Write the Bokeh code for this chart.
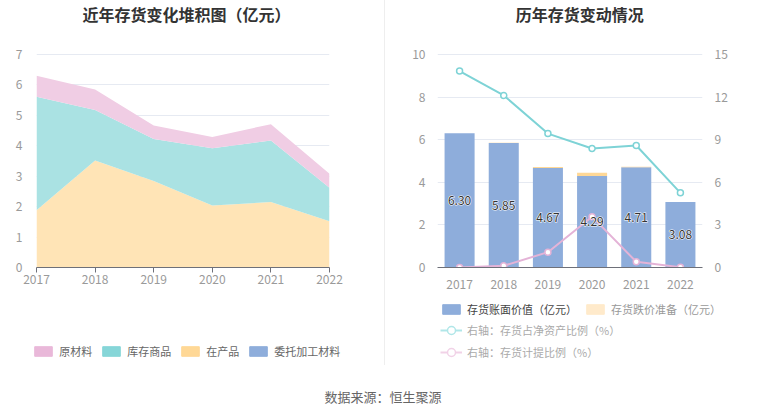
from bokeh.plotting import figure
from bokeh.models import (Range1d, FactorRange, LinearAxis, Legend, LegendItem, Label,
                          FixedTicker, ColumnDataSource, Spacer)
from bokeh.layouts import row, column
from bokeh.core.properties import value
from bokeh.embed import file_html
from bokeh.resources import INLINE

FONT = "Noto Sans CJK SC"

# ---------------- data ----------------
years = ["2017", "2018", "2019", "2020", "2021", "2022"]
year_nums = [2017, 2018, 2019, 2020, 2021, 2022]

# left: stacked inventory composition (亿元)
consigned = [0.0, 0.0, 0.0, 0.0, 0.0, 0.0]          # 委托加工材料
wip = [1.88, 3.52, 2.84, 2.04, 2.15, 1.52]           # 在产品
finished = [3.73, 1.66, 1.38, 1.88, 2.02, 1.10]      # 库存商品
raw = [0.69, 0.67, 0.45, 0.37, 0.54, 0.46]           # 原材料

# right: inventory changes
book_value = [6.30, 5.85, 4.67, 4.29, 4.71, 3.08]    # 存货账面价值（亿元）
impairment = [0.0, 0.01, 0.05, 0.16, 0.02, 0.0]      # 存货跌价准备（亿元）
ratio_net_assets = [13.83, 12.12, 9.43, 8.38, 8.59, 5.26]  # 存货占净资产比例（%）
provision_ratio = [0.0, 0.12, 1.08, 3.58, 0.40, 0.02]      # 存货计提比例（%）

left_ticks = [0, 1, 2, 3, 4, 5, 6, 7]
right_left_ticks = [0, 2, 4, 6, 8, 10]
right_right_ticks = [0, 3, 6, 9, 12, 15]

# colours
PINK, TEAL, ORANGE, BLUE = "#E9B8D9", "#86D6D8", "#FFD896", "#8EADDB"
PINK_A, TEAL_A, ORANGE_A, BLUE_A = "#F0CDE4", "#AAE2E3", "#FFE4B6", "#B0C6E6"
AXIS = "#6E7079"
GRID = "#E6EAF2"
TICKTXT = "#9A9A9A"

# frame geometry: frame spans figure top (title lives inside) down to the x axis
FRAME_H = 267
PLOT_TOP = 54
L_TOP = 7 * FRAME_H / (FRAME_H - PLOT_TOP)
R_TOP = 10 * FRAME_H / (FRAME_H - PLOT_TOP)
R2_TOP = 15 * FRAME_H / (FRAME_H - PLOT_TOP)

# ---------------- left chart ----------------
pl = figure(width=384, height=296, x_range=Range1d(2017, 2022), y_range=Range1d(0, L_TOP),
            output_backend="svg", toolbar_location=None,
            min_border_left=36, min_border_right=55, min_border_top=0, min_border_bottom=29)
pl.outline_line_color = None
src_l = ColumnDataSource(dict(x=year_nums, consigned=consigned, wip=wip,
                              finished=finished, raw=raw))
pl.varea_stack(["consigned", "wip", "finished", "raw"], x="x", source=src_l,
               color=[BLUE_A, ORANGE_A, TEAL_A, PINK_A])

pl.xaxis.ticker = FixedTicker(ticks=year_nums)
pl.xaxis.axis_line_color = AXIS
pl.xaxis.major_tick_line_color = AXIS
pl.xaxis.major_tick_out = 5
pl.xaxis.major_tick_in = 0
pl.xaxis.minor_tick_line_color = None
pl.xaxis.major_label_standoff = 2
lt = FixedTicker(ticks=left_ticks)
pl.yaxis.ticker = lt
pl.ygrid.ticker = lt
pl.yaxis.axis_line_color = None
pl.yaxis.major_tick_line_color = None
pl.yaxis.minor_tick_line_color = None
pl.yaxis.major_label_standoff = 8
for ax in (pl.xaxis, pl.yaxis):
    ax.major_label_text_color = TICKTXT
    ax.major_label_text_font = FONT
    ax.major_label_text_font_size = "12px"
pl.xgrid.grid_line_color = None
pl.ygrid.grid_line_color = GRID
pl.add_layout(Label(x=2019.56, y=(FRAME_H - 13.3) / (FRAME_H - PLOT_TOP) * 7,
                    text="近年存货变化堆积图（亿元）", text_align="center",
                    text_baseline="middle", text_font=FONT, text_font_size="16px",
                    text_font_style="bold", text_color="#333333"))

# ---------------- right chart ----------------
pr = figure(width=380, height=296, x_range=FactorRange(*years), y_range=Range1d(0, R_TOP),
            output_backend="svg", toolbar_location=None,
            min_border_left=52, min_border_right=63, min_border_top=0, min_border_bottom=29)
pr.outline_line_color = None
pr.extra_y_ranges = {"pct": Range1d(0, R2_TOP)}
pr.add_layout(LinearAxis(y_range_name="pct", ticker=FixedTicker(ticks=right_right_ticks)), "right")

src_r = ColumnDataSource(dict(year=years, book=book_value, imp=impairment,
                              ratio=ratio_net_assets, prov=provision_ratio,
                              mid=[v / 2 for v in book_value],
                              lbl=["%.2f" % v for v in book_value]))
pr.vbar_stack(["book", "imp"], x="year", width=0.68, source=src_r,
              color=[BLUE, ORANGE], line_color=None)

pr.line(x="year", y="ratio", source=src_r, y_range_name="pct", line_color="#7ED3D6", line_width=2)
pr.scatter(x="year", y="ratio", source=src_r, y_range_name="pct", marker="circle", size=6,
           fill_color="white", line_color="#7ED3D6", line_width=1.5)
pr.line(x="year", y="prov", source=src_r, y_range_name="pct", line_color="#E4B3D7", line_width=2)
pr.scatter(x="year", y="prov", source=src_r, y_range_name="pct", marker="circle", size=6,
           fill_color="white", line_color="#E4B3D7", line_width=1.5)

# halo then text
pr.text(x="year", y="mid", text="lbl", source=src_r, text_align="center",
        text_baseline="middle", text_font=value(FONT), text_font_size="12px",
        text_color="white", text_outline_color="white")
pr.text(x="year", y="mid", text="lbl", source=src_r, text_align="center",
        text_baseline="middle", text_font=value(FONT), text_font_size="12px",
        text_color="#333333")

pr.xaxis.axis_line_color = AXIS
pr.xaxis.major_tick_line_color = None
pr.xaxis.major_label_standoff = 6
for ax in pr.yaxis:
    ax.axis_line_color = None
    ax.major_tick_line_color = None
    ax.minor_tick_line_color = None
    ax.major_label_standoff = 6
rt = FixedTicker(ticks=right_left_ticks)
pr.yaxis[0].ticker = rt
pr.ygrid.ticker = rt
for ax in list(pr.xaxis) + list(pr.yaxis):
    ax.major_label_text_color = TICKTXT
    ax.major_label_text_font = FONT
    ax.major_label_text_font_size = "12px"
pr.xgrid.grid_line_color = None
pr.ygrid.grid_line_color = GRID
pr.add_layout(Label(x=3.22, y=(FRAME_H - 13.3) / (FRAME_H - PLOT_TOP) * 10,
                    text="历年存货变动情况", text_align="center",
                    text_baseline="middle", text_font=FONT, text_font_size="16px",
                    text_font_style="bold", text_color="#333333"))

# ---------------- legend strips ----------------
LEG_H = 74


def strip(width):
    f = figure(width=width, height=LEG_H, x_range=Range1d(0, width), y_range=Range1d(0, LEG_H),
               output_backend="svg", toolbar_location=None, min_border=0,
               x_axis_location=None, y_axis_location=None)
    f.grid.visible = False
    f.outline_line_color = None
    return f


common = dict(glyph_width=22, padding=0, margin=0, border_line_color=None,
              background_fill_alpha=0, label_text_font=FONT, label_text_font_size="11px",
              label_standoff=5)

gl = strip(384)
dl = {}
for name, c in [("raw", PINK), ("fin", TEAL), ("wip", ORANGE), ("con", BLUE)]:
    dl[name] = gl.vbar(x=[-50], top=[-10], bottom=[-20], width=1, color=c)
gl.add_layout(Legend(items=[LegendItem(label="原材料", renderers=[dl["raw"]]),
                            LegendItem(label="库存商品", renderers=[dl["fin"]]),
                            LegendItem(label="在产品", renderers=[dl["wip"]]),
                            LegendItem(label="委托加工材料", renderers=[dl["con"]])],
                     orientation="horizontal", location=(32.3, 11.3),
                     glyph_height=12, label_height=12, spacing=8,
                     label_text_color="#666666", **common))

gr = strip(380)
d_book = gr.vbar(x=[-50], top=[-10], bottom=[-20], width=1, color=BLUE)
d_imp = gr.vbar(x=[-50], top=[-10], bottom=[-20], width=1, color="#FFEACB")
d_l1 = gr.line(x=[-60, -50], y=[-10, -10], line_color="#B0E6E8", line_width=2)
d_s1 = gr.scatter(x=[-50], y=[-10], marker="circle", fill_color="white",
                  line_color="#B0E6E8", line_width=1.5)
d_l2 = gr.line(x=[-60, -50], y=[-10, -10], line_color="#F1D2E7", line_width=2)
d_s2 = gr.scatter(x=[-50], y=[-10], marker="circle", fill_color="white",
                  line_color="#F1D2E7", line_width=1.5)
gr.add_layout(Legend(items=[LegendItem(label="存货账面价值（亿元）", renderers=[d_book])],
                     location=(55, 53.3), glyph_height=12, label_height=12,
                     label_text_color="#444444", **common))
gr.add_layout(Legend(items=[LegendItem(label="存货跌价准备（亿元）", renderers=[d_imp])],
                     location=(199, 53.3), glyph_height=12, label_height=12,
                     label_text_color="#999999", **common))
gr.add_layout(Legend(items=[LegendItem(label="右轴：存货占净资产比例（%）", renderers=[d_l1, d_s1]),
                            LegendItem(label="右轴：存货计提比例（%）", renderers=[d_l2, d_s2])],
                     location=(55, 8), glyph_height=20, label_height=20, spacing=2,
                     label_text_color="#AAAAAA", **common))

# ---------------- source line ----------------
SRC_H = 42
pb = figure(width=765, height=SRC_H, x_range=Range1d(0, 765), y_range=Range1d(0, SRC_H),
            output_backend="svg", toolbar_location=None, min_border=0,
            x_axis_location=None, y_axis_location=None)
pb.grid.visible = False
pb.outline_line_color = None
pb.add_layout(Label(x=382.5, y=16, text="数据来源：恒生聚源", text_align="center",
                    text_baseline="middle", text_font=FONT, text_font_size="13px",
                    text_color="#666666"))

div_style = {"background-color": "#EEEEEE"}
layout = column(row(pl, Spacer(width=1, height=296, styles=div_style), pr),
                row(gl, Spacer(width=1, height=69, styles=div_style), gr),
                pb)

open("out.html", "w").write(file_html(layout, INLINE))
